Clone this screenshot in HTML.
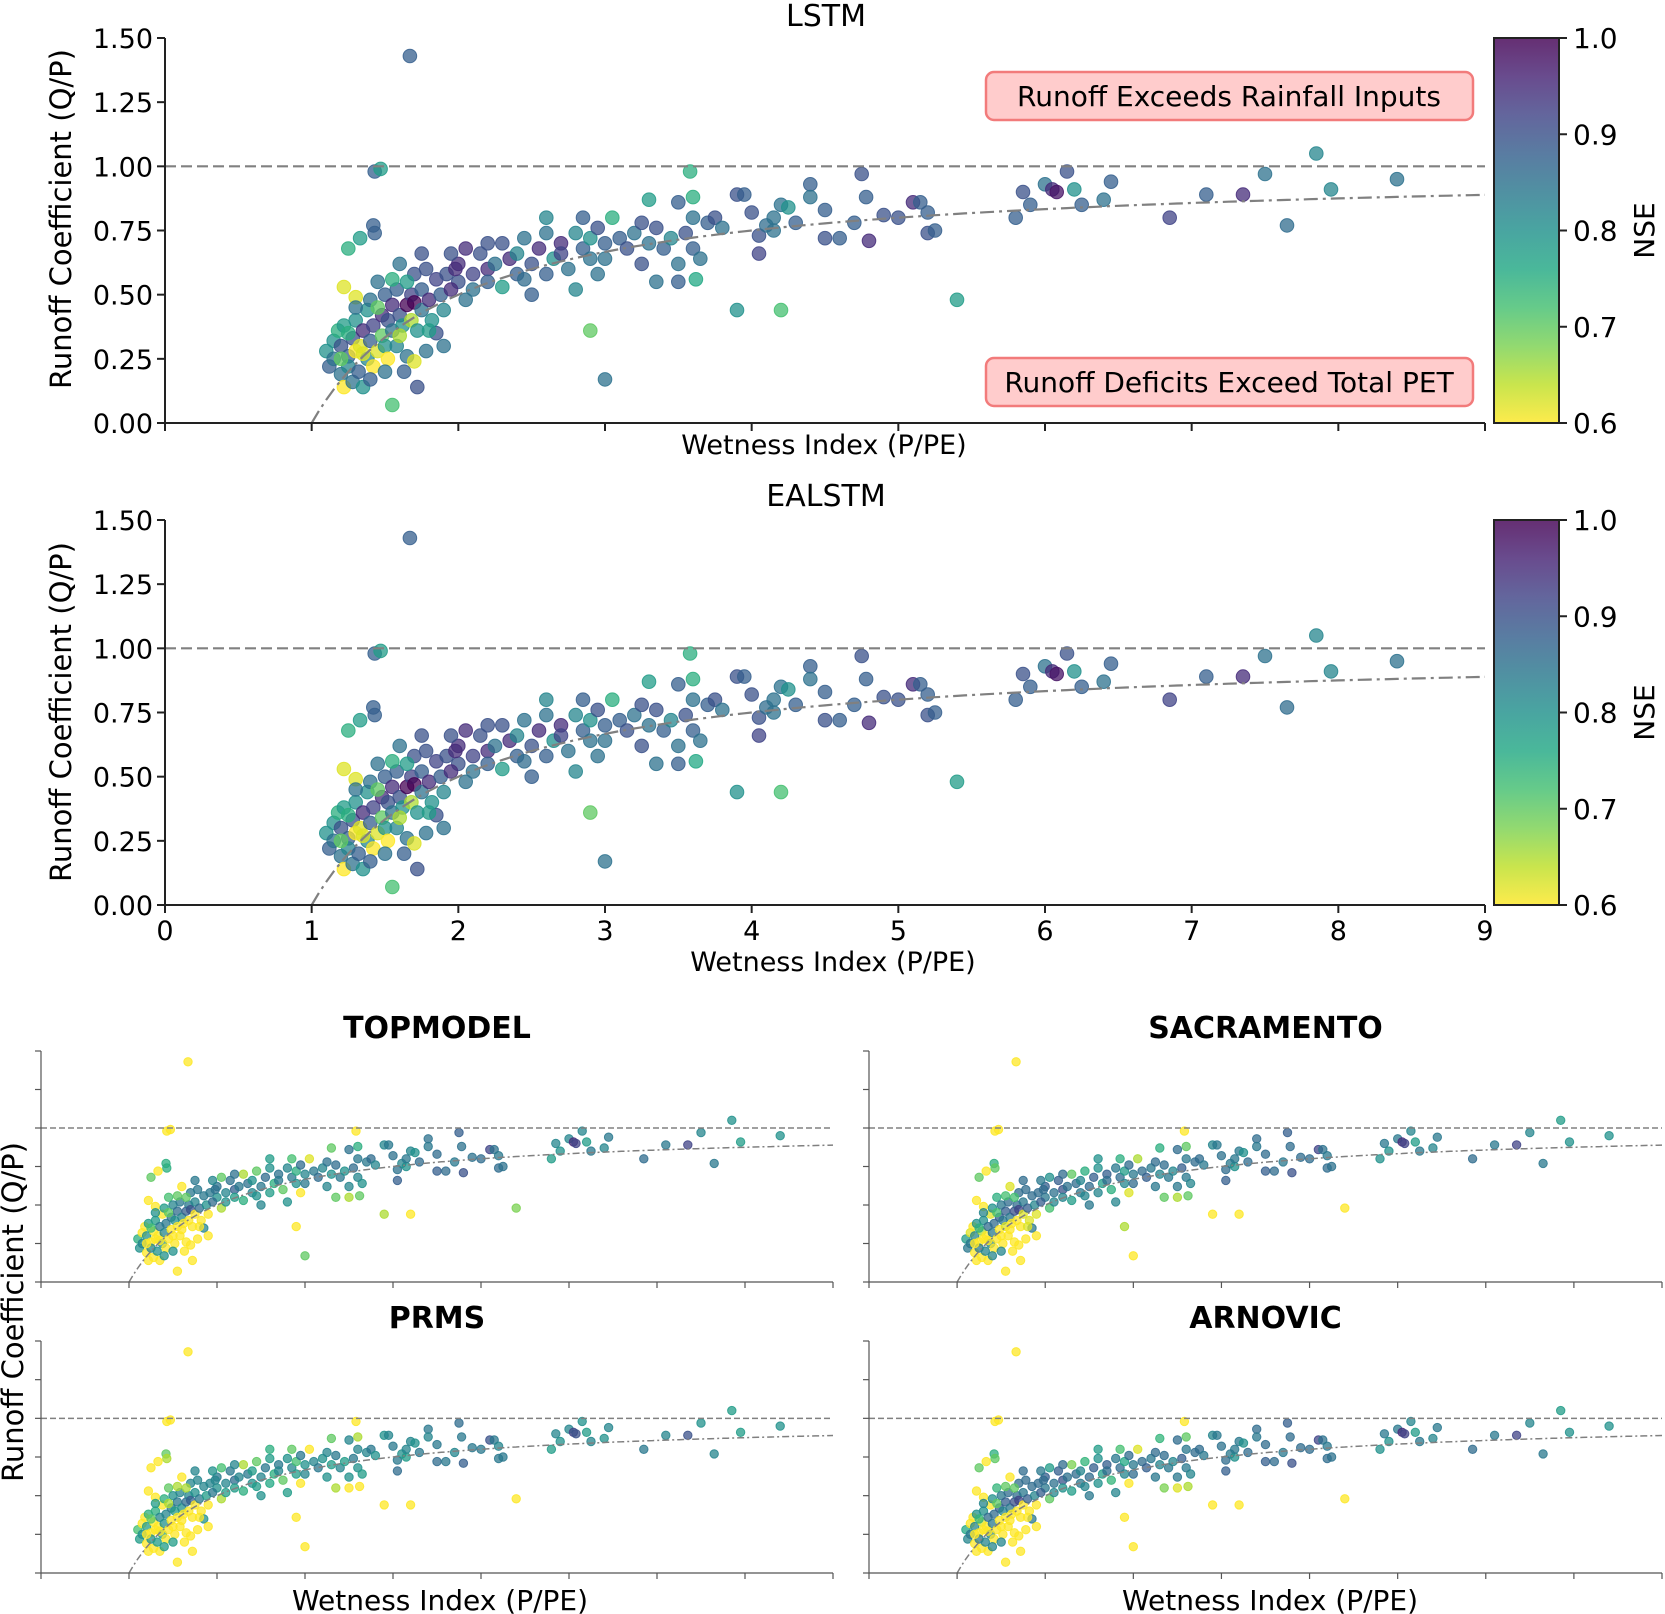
<!DOCTYPE html>
<html><head><meta charset="utf-8">
<style>
html,body{margin:0;padding:0;background:#fff;}
svg{display:block;font-family:"DejaVu Sans","Liberation Sans",sans-serif;}
</style></head>
<body>
<svg id="fig" width="1665" height="1614" viewBox="0 0 1665 1614" xmlns="http://www.w3.org/2000/svg">
<defs>
<linearGradient id="vir" x1="0" y1="1" x2="0" y2="0">
<stop offset="0" stop-color="#fde725"/><stop offset="0.1" stop-color="#bddf26"/><stop offset="0.2" stop-color="#7ad151"/><stop offset="0.3" stop-color="#44bf70"/><stop offset="0.4" stop-color="#22a884"/><stop offset="0.5" stop-color="#21918c"/><stop offset="0.6" stop-color="#2a788e"/><stop offset="0.7" stop-color="#355f8d"/><stop offset="0.8" stop-color="#414487"/><stop offset="0.9" stop-color="#482475"/><stop offset="1" stop-color="#440154"/>
</linearGradient>
</defs>
</svg>
<script>
const wetness=[1.67,1.43,1.47,1.42,1.43,1.25,1.33,1.22,1.30,1.55,3.0,2.9,3.9,4.2,5.4,3.58,3.6,3.62,1.72,1.63,
4.05,4.05,4.2,4.25,4.4,4.4,4.5,4.5,4.6,4.7,4.75,4.78,4.8,4.9,5.0,5.1,5.15,5.2,5.2,5.25,5.8,5.85,5.9,6.0,6.05,6.08,6.15,6.2,6.25,6.4,6.45,6.85,7.1,7.35,7.5,7.65,7.85,7.95,8.4,3.9,3.95,4.0,4.1,4.15,4.15,4.3,
2.0,2.0,2.05,2.05,2.1,2.1,2.15,2.2,2.2,2.25,2.3,2.3,2.35,2.4,2.4,2.45,2.5,2.5,2.55,2.6,2.6,2.65,2.7,2.7,2.75,2.8,2.8,2.85,2.9,2.9,2.95,3.0,3.0,3.05,3.1,3.15,3.2,3.25,3.3,3.3,3.35,3.4,3.45,3.5,3.5,3.55,3.6,3.6,3.65,3.7,3.75,3.8,3.35,3.5,2.85,2.6,2.95,2.45,2.2,3.25,
1.1,1.12,1.15,1.15,1.18,1.2,1.2,1.22,1.22,1.25,1.25,1.28,1.28,1.3,1.3,1.32,1.33,1.35,1.35,1.38,1.38,1.4,1.4,1.42,1.42,1.45,1.45,1.48,1.48,1.5,1.5,1.52,1.52,1.55,1.55,1.58,1.58,1.6,1.6,1.62,1.65,1.65,1.68,1.68,1.7,1.7,1.72,1.75,1.75,1.78,1.78,1.8,1.82,1.85,1.85,1.88,1.9,1.92,1.95,1.95,1.98,1.7,1.35,1.6,1.45,1.55,1.25,1.4,1.5,1.65,1.8,1.9,1.3,1.2,1.75];
const runoff=[1.43,0.98,0.99,0.77,0.74,0.68,0.72,0.53,0.49,0.07,0.17,0.36,0.44,0.44,0.48,0.98,0.88,0.56,0.14,0.20,
.73,.66,.85,.84,.93,.88,.83,.72,.72,.78,.97,.88,.71,.81,.80,.86,.86,.82,.74,.75,.80,.90,.85,.93,.91,.90,.98,.91,.85,.87,.94,.80,.89,.89,.97,.77,1.05,.91,.95,.89,.89,.82,.77,.75,.80,.78,
.62,.55,.68,.48,.58,.52,.66,.60,.55,.62,.70,.53,.64,.58,.66,.72,.50,.62,.68,.74,.58,.64,.70,.66,.60,.74,.52,.68,.72,.64,.76,.70,.64,.80,.72,.68,.74,.78,.70,.87,.76,.68,.72,.86,.62,.74,.80,.68,.64,.78,.80,.76,.55,.55,.80,.80,.58,.56,.70,.62,
.28,.22,.32,.25,.36,.19,.30,.14,.38,.26,.22,.33,.16,.28,.40,.20,.30,.36,.14,.25,.44,.32,.48,.22,.38,.28,.55,.42,.34,.30,.50,.40,.25,.46,.36,.52,.30,.42,.62,.38,.46,.26,.50,.40,.47,.58,.36,.52,.44,.60,.28,.48,.40,.56,.35,.50,.44,.58,.52,.66,.60,.24,.27,.34,.45,.56,.35,.17,.20,.55,.36,.30,.45,.25,.66];
const nseLSTM=[.88,.88,.78,.88,.88,.75,.78,.62,.62,.72,.85,.7,.8,.72,.78,.75,.75,.76,.9,.88,
.9,.92,.85,.8,.88,.85,.88,.9,.88,.88,.9,.88,.95,.9,.9,.95,.88,.88,.9,.88,.88,.9,.88,.85,.95,.98,.9,.8,.88,.85,.88,.92,.88,.95,.85,.86,.82,.82,.85,.9,.88,.9,.86,.85,.85,.88,
.95,.9,.95,.85,.92,.85,.9,.95,.88,.85,.9,.78,.95,.88,.82,.85,.88,.9,.95,.85,.88,.8,.95,.92,.85,.82,.82,.88,.8,.85,.9,.88,.85,.75,.88,.9,.85,.9,.85,.78,.9,.88,.82,.88,.85,.9,.85,.88,.85,.88,.9,.85,.85,.88,.88,.82,.85,.86,.9,.9,
.8,.88,.8,.85,.75,.85,.9,.6,.78,.88,.82,.9,.85,.6,.8,.88,.62,.95,.8,.82,.8,.88,.85,.6,.92,.62,.85,.95,.7,.8,.88,.9,.6,.95,.85,.88,.82,.9,.85,.8,1.0,.85,.92,.65,1.0,.9,.8,.88,.85,.9,.85,.95,.8,.92,.9,.88,.82,.9,.95,.9,.95,.62,.62,.65,.7,.75,.75,.88,.85,.78,.78,.85,.85,.7,.9];
const nseEALSTM=[.88,.88,.78,.88,.88,.75,.78,.62,.62,.72,.85,.7,.8,.72,.78,.75,.75,.76,.9,.88,
.9,.92,.85,.8,.88,.85,.88,.9,.88,.88,.9,.88,.95,.9,.9,.95,.88,.88,.9,.88,.88,.9,.88,.85,.95,.98,.9,.8,.88,.85,.88,.92,.88,.95,.85,.86,.82,.82,.85,.9,.88,.9,.86,.85,.85,.88,
.95,.9,.95,.85,.92,.85,.9,.95,.88,.85,.9,.78,.95,.88,.82,.85,.88,.9,.95,.85,.88,.8,.95,.92,.85,.82,.82,.88,.8,.85,.9,.88,.85,.75,.88,.9,.85,.9,.85,.78,.9,.88,.82,.88,.85,.9,.85,.88,.85,.88,.9,.85,.85,.88,.88,.82,.85,.86,.9,.9,
.8,.88,.8,.85,.75,.85,.9,.6,.78,.88,.82,.9,.85,.6,.8,.88,.62,.95,.8,.82,.8,.88,.85,.6,.92,.62,.85,.95,.7,.8,.88,.9,.6,.95,.85,.88,.82,.9,.85,.8,1.0,.85,.92,.65,1.0,.9,.8,.88,.85,.9,.85,.95,.8,.92,.9,.88,.82,.9,.95,.9,.95,.62,.62,.65,.7,.75,.75,.88,.85,.78,.78,.85,.85,.7,.9];
const nseTOPMODEL=[.5,.55,.55,.75,.75,.7,.6,.55,.55,.55,.7,.6,.65,.58,.68,.6,.75,.7,.5,.55,
.85,.88,.82,.8,.85,.84,.86,.88,.86,.84,.88,.85,.9,.85,.86,.92,.85,.84,.86,.85,.78,.82,.8,.82,.95,.92,.82,.78,.84,.82,.84,.86,.84,.92,.82,.84,.8,.78,.8,.82,.84,.85,.82,.8,.84,.86,
.85,.8,.7,.65,.82,.8,.85,.88,.78,.84,.65,.75,.85,.82,.8,.7,.82,.84,.86,.8,.78,.75,.85,.84,.7,.82,.8,.84,.75,.8,.86,.82,.84,.62,.84,.86,.82,.85,.8,.7,.86,.84,.8,.85,.82,.86,.84,.82,.8,.84,.86,.82,.7,.65,.72,.78,.6,.8,.85,.82,
.75,.8,.6,.82,.55,.5,.8,.5,.78,.55,.82,.6,.5,.55,.78,.8,.5,.84,.55,.8,.6,.82,.78,.55,.84,.55,.72,.85,.6,.55,.82,.8,.5,.86,.6,.84,.55,.82,.6,.55,.88,.5,.84,.6,.9,.84,.5,.82,.6,.84,.55,.86,.6,.84,.82,.8,.6,.84,.86,.82,.85,.5,.55,.6,.7,.7,.72,.8,.8,.7,.6,.55,.8,.55,.84];
const nseSACRAMENTO=[.5,.55,.55,.75,.7,.7,.6,.55,.55,.55,.6,.65,.6,.55,.55,.6,.7,.7,.5,.55,
.86,.88,.84,.8,.86,.84,.86,.88,.86,.84,.88,.86,.9,.86,.86,.92,.85,.84,.86,.85,.8,.84,.8,.84,.95,.92,.82,.78,.84,.82,.84,.86,.84,.92,.82,.84,.78,.8,.8,.82,.84,.85,.84,.8,.84,.86,
.88,.84,.8,.72,.85,.82,.88,.9,.82,.85,.7,.78,.86,.84,.82,.75,.84,.86,.88,.8,.82,.78,.88,.86,.75,.84,.82,.86,.78,.82,.86,.84,.86,.65,.86,.88,.84,.86,.82,.75,.86,.84,.82,.86,.84,.88,.84,.84,.82,.86,.86,.84,.7,.65,.75,.8,.62,.82,.86,.84,
.78,.84,.62,.84,.6,.55,.82,.5,.8,.6,.84,.65,.55,.55,.8,.82,.55,.86,.55,.82,.62,.84,.8,.55,.86,.55,.75,.88,.6,.6,.84,.84,.5,.88,.62,.86,.6,.84,.62,.6,.9,.55,.86,.6,.92,.86,.55,.84,.62,.86,.6,.88,.62,.86,.84,.82,.62,.86,.88,.84,.86,.5,.55,.6,.72,.72,.75,.82,.82,.72,.62,.6,.82,.55,.86];
const nsePRMS=[.5,.55,.55,.7,.65,.6,.55,.55,.55,.55,.55,.6,.55,.55,.55,.6,.65,.6,.5,.55,
.84,.86,.82,.8,.84,.82,.84,.86,.84,.82,.86,.84,.88,.84,.84,.9,.84,.82,.84,.84,.78,.82,.8,.82,.92,.9,.8,.78,.82,.8,.82,.84,.82,.9,.8,.82,.78,.78,.8,.8,.82,.84,.8,.78,.82,.84,
.84,.8,.72,.65,.82,.78,.84,.86,.78,.82,.65,.75,.84,.8,.78,.7,.8,.82,.84,.78,.76,.75,.84,.82,.7,.8,.78,.82,.72,.78,.84,.8,.82,.6,.82,.84,.8,.82,.78,.7,.84,.82,.78,.82,.8,.84,.82,.8,.78,.82,.84,.8,.65,.6,.7,.75,.6,.78,.82,.8,
.72,.78,.55,.8,.55,.5,.78,.5,.75,.5,.8,.55,.5,.5,.75,.78,.5,.82,.5,.78,.55,.8,.75,.5,.82,.5,.7,.84,.55,.5,.8,.78,.5,.84,.55,.82,.5,.8,.55,.5,.86,.5,.82,.55,.88,.82,.5,.8,.55,.82,.5,.84,.55,.82,.8,.78,.55,.82,.84,.8,.82,.5,.5,.55,.65,.65,.7,.78,.78,.65,.55,.5,.78,.5,.82];
const nseARNOVIC=[.5,.55,.55,.75,.7,.7,.6,.55,.55,.55,.6,.6,.6,.55,.55,.6,.7,.65,.5,.55,
.86,.88,.84,.8,.86,.84,.86,.88,.86,.84,.88,.86,.9,.86,.86,.92,.85,.84,.86,.85,.8,.84,.8,.84,.95,.92,.82,.78,.84,.82,.84,.86,.84,.92,.82,.84,.78,.8,.8,.82,.84,.85,.84,.8,.84,.86,
.88,.84,.78,.7,.85,.82,.88,.9,.8,.85,.68,.78,.86,.84,.82,.74,.84,.86,.88,.8,.8,.78,.88,.86,.74,.84,.82,.86,.76,.82,.86,.84,.86,.62,.86,.88,.84,.86,.82,.74,.86,.84,.82,.86,.84,.88,.84,.84,.82,.86,.86,.84,.68,.62,.72,.78,.6,.82,.86,.84,
.76,.82,.6,.84,.58,.55,.82,.5,.8,.58,.84,.62,.55,.55,.8,.82,.52,.86,.55,.82,.6,.84,.8,.55,.86,.55,.74,.88,.6,.58,.84,.82,.5,.88,.6,.86,.58,.84,.6,.58,.9,.52,.86,.6,.92,.86,.52,.84,.6,.86,.58,.88,.6,.86,.84,.82,.6,.86,.88,.84,.86,.5,.55,.6,.7,.7,.74,.82,.82,.7,.6,.58,.82,.55,.86];
const yTickLabels=["0.00","0.25","0.50","0.75","1.00","1.25","1.50"];
const yTickValues=[0,0.25,0.5,0.75,1,1.25,1.5];
const xTickValues=[0,1,2,3,4,5,6,7,8,9];
const cbTickValues=[0.6,0.7,0.8,0.9,1.0];
const cbTickLabels=["0.6","0.7","0.8","0.9","1.0"];

const NS="http://www.w3.org/2000/svg";
const svg=document.getElementById('fig');
function mk(tag,attrs,parent){const e=document.createElementNS(NS,tag);for(const k in attrs)e.setAttribute(k,attrs[k]);(parent||svg).appendChild(e);return e;}
const vstops=[[0,[68,1,84]],[0.1,[72,36,117]],[0.2,[65,68,135]],[0.3,[53,95,141]],[0.4,[42,120,142]],[0.5,[33,145,140]],[0.6,[34,168,132]],[0.7,[68,191,112]],[0.8,[122,209,81]],[0.9,[189,223,38]],[1,[253,231,37]]];
function viridisR(nse){let t=(nse-0.6)/0.4;t=Math.max(0,Math.min(1,t));const u=1-t;
 for(let i=1;i<vstops.length;i++){if(u<=vstops[i][0]){const a=vstops[i-1],b=vstops[i];const f=(u-a[0])/(b[0]-a[0]);const c=a[1].map((v,j)=>Math.round(v+(b[1][j]-v)*f));return `rgb(${c[0]},${c[1]},${c[2]})`;}}
 return 'rgb(253,231,37)';}

function panel(cfg){
 const g=mk('g',{});
 
 
 const xs=v=>cfg.x0+(v/9)*(cfg.x1-cfg.x0);
 const ys=v=>cfg.y1-(v/1.5)*(cfg.y1-cfg.y0);
 const pg=mk('g',{},g);
 
 
 for(let i=0;i<wetness.length;i++){
  const c=viridisR(cfg.nse[i]);
  const p=mk('circle',{cx:xs(wetness[i]).toFixed(1),cy:ys(runoff[i]).toFixed(1),r:cfg.r,fill:c,'fill-opacity':0.75,stroke:c,'stroke-opacity':0.85,'stroke-width':1},pg);
  
  
 }
 const dl=mk('line',{x1:cfg.x0,x2:cfg.x1,y1:ys(1),y2:ys(1),stroke:'#808080','stroke-width':cfg.lw,'stroke-dasharray':cfg.big?'11,5':'6,3'},g);
 
 
 let d='';for(let k=0;k<=160;k++){const w=1+k*8/160;d+=(k?'L':'M')+xs(w).toFixed(1)+','+ys(1-1/w).toFixed(1);}
 const cv=mk('path',{d:d,fill:'none',stroke:'#808080','stroke-width':cfg.lw,'stroke-dasharray':cfg.big?'14,5,3,5':'7,3,2,3'},g);
 
 
 const ax=mk('path',{d:`M${cfg.x0},${cfg.y0}V${cfg.y1}H${cfg.x1}`,fill:'none',stroke:cfg.big?'#222':'#555','stroke-width':cfg.big?2:1.2},g);
 
 
 const tl=cfg.big?8:6;
 yTickValues.forEach((v,i)=>{
  const t=mk('line',{x1:cfg.x0-tl,x2:cfg.x0,y1:ys(v),y2:ys(v),stroke:cfg.big?'#222':'#555','stroke-width':cfg.big?2:1.2},g);
  
  
  if(cfg.big){const tx=mk('text',{x:cfg.x0-12,y:ys(v)+10,'font-size':27,'text-anchor':'end',fill:'#000'},g);tx.textContent=yTickLabels[i];
   
   }
 });
 xTickValues.forEach(v=>{
  const t=mk('line',{x1:xs(v),x2:xs(v),y1:cfg.y1,y2:cfg.y1+tl,stroke:cfg.big?'#222':'#555','stroke-width':cfg.big?2:1.2},g);
  
  
  if(cfg.xlabels){const tx=mk('text',{x:xs(v),y:cfg.y1+35,'font-size':27,'text-anchor':'middle',fill:'#000'},g);tx.textContent=String(v);
   
   }
 });
 return {xs,ys};
}
function text(x,y,s,name,attrs){const t=mk('text',Object.assign({x:x,y:y,fill:'#000'},attrs||{}));t.textContent=s;
 
 
 return t;}
function colorbar(y0,y1,name){
 const g=mk('g',{});
 
 
 mk('rect',{x:1494,y:y0,width:65,height:y1-y0,fill:'url(#vir)','fill-opacity':0.82,stroke:'#222','stroke-width':2},g);
 cbTickValues.forEach((v,i)=>{const y=y1-(v-0.6)/0.4*(y1-y0);
  const tk=mk('line',{x1:1559,x2:1567,y1:y,y2:y,stroke:'#222','stroke-width':2},g);
  
  
  const t=mk('text',{x:1573,y:y+10,'font-size':28},g);t.textContent=cbTickLabels[i];
  
  });
 const n=mk('text',{x:0,y:0,'font-size':28,'text-anchor':'middle',transform:`translate(1654,${(y0+y1)/2}) rotate(-90)`},g);n.textContent='NSE';
 
 
}

panel({name:'lstm-panel',x0:165,x1:1485,y0:38,y1:423,r:6.8,nse:nseLSTM,big:true,xlabels:false,lw:2.2});
panel({name:'ealstm-panel',x0:165,x1:1485,y0:520,y1:905,r:6.8,nse:nseEALSTM,big:true,xlabels:true,lw:2.2});
colorbar(38,423,'lstm-colorbar');
colorbar(520,905,'ealstm-colorbar');
text(826,26,'LSTM','lstm-title',{'font-size':30,'text-anchor':'middle'});
text(826,506,'EALSTM','ealstm-title',{'font-size':30,'text-anchor':'middle'});
text(824,454,'Wetness Index (P/PE)','lstm-x-axis-title',{'font-size':27,'text-anchor':'middle'});
text(833,971,'Wetness Index (P/PE)','ealstm-x-axis-title',{'font-size':27,'text-anchor':'middle'});
text(0,0,'Runoff Coefficient (Q/P)','lstm-y-axis-title',{'font-size':29,'text-anchor':'middle',transform:'translate(71,219) rotate(-90)'});
text(0,0,'Runoff Coefficient (Q/P)','ealstm-y-axis-title',{'font-size':29,'text-anchor':'middle',transform:'translate(71,712) rotate(-90)'});
[['Runoff Exceeds Rainfall Inputs',72,'exceeds-rainfall-annotation'],['Runoff Deficits Exceed Total PET',358,'deficit-pet-annotation']].forEach(a=>{
 const r=mk('rect',{x:986,y:a[1],width:487,height:48,rx:8,fill:'#ffcccc',stroke:'#f27b7b','stroke-width':2.5});
 
 
 text(1229,a[1]+34,a[0],a[2],{'font-size':28,'text-anchor':'middle'});
});
const bp=[['topmodel-panel','TOPMODEL',41,833,1051,1282,nseTOPMODEL],['sacramento-panel','SACRAMENTO',869,1662,1051,1282,nseSACRAMENTO],['prms-panel','PRMS',41,833,1341,1573,nsePRMS],['arnovic-panel','ARNOVIC',869,1662,1341,1573,nseARNOVIC]];
bp.forEach(b=>{
 panel({name:b[0],x0:b[2],x1:b[3],y0:b[4],y1:b[5],r:4.2,nse:b[6],big:false,xlabels:false,lw:1.5});
 text((b[2]+b[3])/2,b[4]-13,b[1],b[0].replace('-panel','-title'),{'font-size':30,'font-weight':'bold','text-anchor':'middle'});
});
text(440,1610,'Wetness Index (P/PE)','left-x-axis-title',{'font-size':28,'text-anchor':'middle'});
text(1270,1610,'Wetness Index (P/PE)','right-x-axis-title',{'font-size':28,'text-anchor':'middle'});
text(0,0,'Runoff Coefficient (Q/P)','bottom-y-axis-title',{'font-size':29,'text-anchor':'middle',transform:'translate(23,1312) rotate(-90)'});
</script>
</body></html>
